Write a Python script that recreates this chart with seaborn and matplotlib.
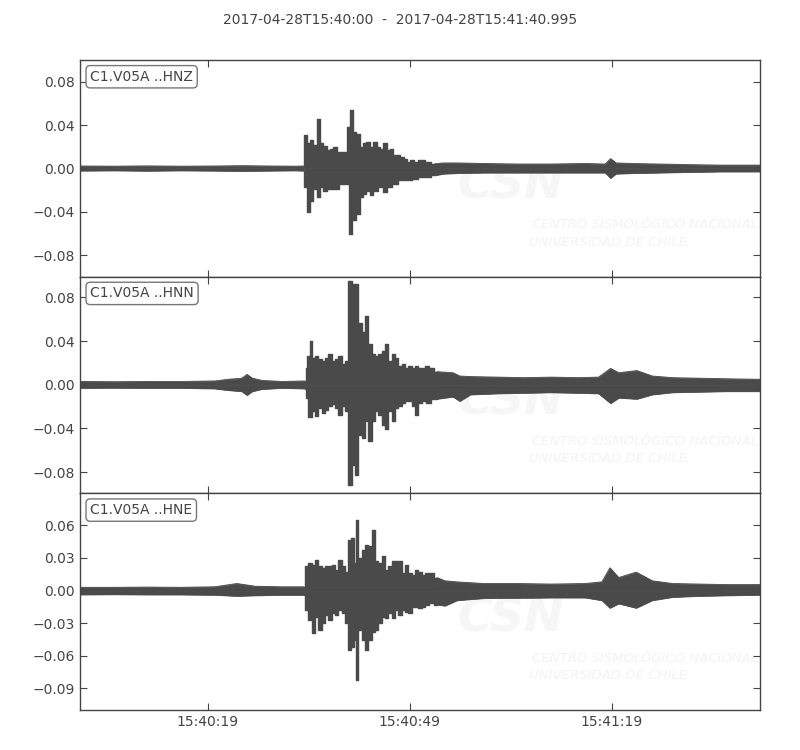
import numpy as np
import pandas as pd
import matplotlib
matplotlib.use("Agg")
import matplotlib.pyplot as plt
import seaborn as sns

# seconds after 2017-04-28T15:40:00
title = "2017-04-28T15:40:00  -  2017-04-28T15:41:40.995"
t_end = 100.995
channels = ["C1.V05A ..HNZ", "C1.V05A ..HNN", "C1.V05A ..HNE"]
xtick_pos = [19, 49, 79]
xtick_labels = ["15:40:19", "15:40:49", "15:41:19"]
# strong-motion part of each trace (densely read)
event_win = [(33.2, 52.7), (33.4, 53), (33.3, 53)]

# max / min outline of each trace (time s, amplitude)
hnz_up_t = [0, 5, 10, 15, 20, 24, 28, 32, 33.2, 33.4, 33.9, 34.4, 34.9, 35.4, 35.9, 36.4,
            36.9, 37.4, 37.9, 38.4, 38.9, 39.4, 39.9, 40.4, 40.8, 41.3, 41.8, 42.3, 42.8,
            43.3, 43.8, 44.3, 44.8, 45.3, 45.8, 46.3, 46.8, 47.3, 47.8, 48.3, 48.8, 49.3,
            49.8, 50.7, 51.7, 52.7, 54, 56, 60, 65, 70, 75, 78, 78.8, 79.6, 82, 86, 90,
            95, 101]
hnz_up_v = [0.0022, 0.002, 0.0023, 0.002, 0.0022, 0.0025, 0.0022, 0.002, 0.0022, 0.0307,
            0.023, 0.026, 0.0214, 0.046, 0.023, 0.021, 0.0167, 0.018, 0.020, 0.015, 0.015,
            0.015, 0.038, 0.054, 0.034, 0.032, 0.020, 0.023, 0.0245, 0.020, 0.0245, 0.020,
            0.018, 0.023, 0.0167, 0.018, 0.012, 0.012, 0.0105, 0.009, 0.006, 0.0074,
            0.006, 0.0074, 0.006, 0.0043, 0.005, 0.005, 0.0045, 0.004, 0.004, 0.0045,
            0.004, 0.009, 0.005, 0.0045, 0.004, 0.0035, 0.003, 0.003]
hnz_lo_t = [0, 5, 10, 15, 20, 24, 28, 32, 33.2, 33.4, 33.9, 34.4, 34.9, 35.4, 35.9, 36.4,
            36.9, 37.9, 38.9, 39.9, 40.1, 40.6, 41.3, 41.8, 42.3, 42.8, 43.3, 43.8, 44.8,
            45.3, 45.8, 46.8, 47.8, 48.8, 49.8, 50.7, 51.7, 52.7, 54, 56, 60, 65, 70, 75,
            78, 78.8, 79.6, 82, 86, 90, 95, 101]
hnz_lo_v = [-0.0022, -0.002, -0.0023, -0.002, -0.0022, -0.0025, -0.0022, -0.002, -0.0022,
            -0.0174, -0.0406, -0.030, -0.019, -0.0267, -0.0174, -0.0205, -0.019, -0.019,
            -0.0143, -0.0143, -0.061, -0.048, -0.042, -0.0267, -0.0236, -0.0205, -0.025,
            -0.0205, -0.0174, -0.022, -0.0174, -0.0143, -0.011, -0.011, -0.0096, -0.008,
            -0.008, -0.0065, -0.005, -0.0045, -0.004, -0.004, -0.004, -0.004, -0.004,
            -0.009, -0.005, -0.0045, -0.004, -0.0035, -0.003, -0.003]

hnn_up_t = [0, 5, 10, 15, 20, 22, 24, 24.8, 25.6, 27, 30, 33.4, 33.66, 33.91, 34.3, 34.65,
            35.15, 35.64, 36.14, 36.63, 37.13, 37.62, 38.12, 38.61, 39.11, 39.6, 40.1,
            40.6, 41.09, 41.58, 42.08, 42.57, 43.07, 43.56, 44.06, 44.55, 45.05, 45.54,
            46.04, 46.53, 47.03, 47.52, 48.02, 48.51, 49.0, 49.5, 50.0, 50.5, 51.0, 51.5,
            52.2, 53, 55.4, 56.4, 58, 62, 66, 70, 74, 77, 78.8, 80, 82.7, 85, 88, 92, 96,
            101]
hnn_up_v = [0.003, 0.0028, 0.003, 0.003, 0.0035, 0.005, 0.006, 0.0095, 0.006, 0.004, 0.003,
            0.0035, 0.0156, 0.0264, 0.040, 0.0248, 0.0264, 0.0233, 0.0218, 0.0248, 0.0279,
            0.0218, 0.0233, 0.0264, 0.0187, 0.0218, 0.095, 0.092, 0.092, 0.057, 0.048,
            0.063, 0.037, 0.0279, 0.0264, 0.0279, 0.031, 0.037, 0.0218, 0.0279, 0.0248,
            0.0172, 0.0187, 0.0156, 0.0172, 0.0156, 0.0172, 0.0156, 0.0156, 0.0172, 0.0156,
            0.012, 0.011, 0.008, 0.0075, 0.007, 0.0065, 0.007, 0.0065, 0.007, 0.015, 0.011,
            0.013, 0.008, 0.0065, 0.006, 0.0055, 0.005]
hnn_lo_t = [0, 5, 10, 15, 20, 22, 24, 24.8, 25.6, 27, 30, 33.4, 33.66, 34.16, 34.65, 35.15,
            35.64, 36.14, 36.63, 37.13, 37.62, 38.12, 38.61, 39.11, 39.6, 40.1, 40.6,
            41.09, 41.58, 42.08, 42.57, 43.07, 43.56, 44.06, 44.55, 45.05, 45.54, 46.04,
            46.53, 47.03, 47.52, 48.02, 48.51, 49.0, 49.5, 50.0, 50.5, 51.0, 51.7, 52.5,
            53, 55.4, 56.4, 58, 62, 66, 70, 74, 77, 78.8, 80, 82.7, 85, 88, 92, 96, 101]
hnn_lo_v = [-0.003, -0.0028, -0.003, -0.003, -0.0035, -0.005, -0.006, -0.0095, -0.006,
            -0.004, -0.003, -0.0035, -0.012, -0.030, -0.0242, -0.0288, -0.0212, -0.0257,
            -0.0227, -0.0196, -0.018, -0.0212, -0.0273, -0.0196, -0.0242, -0.0917, -0.0733,
            -0.0825, -0.0457, -0.0487, -0.0334, -0.0518, -0.0334, -0.0242, -0.0273, -0.0365,
            -0.041, -0.0242, -0.0334, -0.0212, -0.0196, -0.0166, -0.015, -0.015, -0.0196,
            -0.0273, -0.0166, -0.015, -0.0166, -0.0135, -0.013, -0.011, -0.015, -0.009,
            -0.008, -0.0075, -0.007, -0.0075, -0.008, -0.017, -0.012, -0.013, -0.009,
            -0.007, -0.0065, -0.006, -0.006]

hne_up_t = [0, 5, 10, 15, 20, 23.3, 26, 30, 33.3, 33.66, 34.16, 34.65, 35.15, 35.64, 36.14,
            36.63, 37.13, 37.62, 38.12, 38.61, 39.11, 39.6, 40.1, 40.45, 40.84, 41.09,
            41.58, 42.08, 42.57, 43.07, 43.56, 44.06, 44.55, 45.05, 45.54, 46.04, 46.53,
            47.03, 47.52, 48.02, 48.51, 49.0, 49.5, 50.0, 50.5, 51.0, 51.5, 52.2, 53, 54.2,
            56, 60, 65, 70, 75, 77.5, 78.7, 80, 82.6, 85, 88, 92, 96, 101]
hne_up_v = [0.003, 0.003, 0.0032, 0.003, 0.0035, 0.0065, 0.004, 0.0035, 0.0035, 0.0222,
            0.0253, 0.0237, 0.0283, 0.0222, 0.0207, 0.0222, 0.0222, 0.0237, 0.0191, 0.0283,
            0.0222, 0.0175, 0.0468, 0.0484, 0.0253, 0.0653, 0.030, 0.0376, 0.042, 0.0406,
            0.056, 0.0268, 0.0253, 0.0314, 0.0191, 0.0222, 0.0268, 0.0268, 0.0268, 0.016,
            0.0237, 0.016, 0.0145, 0.0191, 0.0175, 0.0145, 0.016, 0.016, 0.012, 0.009,
            0.008, 0.0065, 0.0065, 0.006, 0.0065, 0.008, 0.021, 0.012, 0.017, 0.009, 0.0065,
            0.006, 0.0055, 0.0055]
hne_lo_t = hne_up_t
hne_lo_v = [-0.0037, -0.0035, -0.0037, -0.0037, -0.004, -0.005, -0.0045, -0.004, -0.004,
            -0.0178, -0.027, -0.0394, -0.024, -0.0363, -0.030, -0.0224, -0.027, -0.0209,
            -0.0224, -0.0178, -0.0209, -0.030, -0.0548, -0.0517, -0.0455, -0.0825, -0.0363,
            -0.0455, -0.0548, -0.0455, -0.0378, -0.0363, -0.030, -0.024, -0.0255, -0.0209,
            -0.0255, -0.0178, -0.0224, -0.0178, -0.0194, -0.0209, -0.0148, -0.0148,
            -0.0163, -0.0148, -0.0132, -0.0117, -0.013, -0.014, -0.009, -0.007, -0.0068,
            -0.0065, -0.0065, -0.009, -0.016, -0.012, -0.016, -0.009, -0.006, -0.005,
            -0.0045, -0.004]

ylims = [(-0.1, 0.1), (-0.0995, 0.099), (-0.11, 0.0895)]
yticks = [[-0.08, -0.04, 0.0, 0.04, 0.08],
          [-0.08, -0.04, 0.0, 0.04, 0.08],
          [-0.09, -0.06, -0.03, 0.0, 0.03, 0.06]]

traces = [(hnz_up_t, hnz_up_v, hnz_lo_t, hnz_lo_v),
          (hnn_up_t, hnn_up_v, hnn_lo_t, hnn_lo_v),
          (hne_up_t, hne_up_v, hne_lo_t, hne_lo_v)]

sns.set_style("ticks")
plt.rcParams['font.family'] = ['DejaVu Sans']
gray = "#444444"
trace = "#4a4a4a"
plt.rcParams.update({
    "text.color": gray, "axes.edgecolor": gray, "xtick.color": gray,
    "ytick.color": gray, "xtick.direction": "in", "ytick.direction": "in",
})

fig, axes = plt.subplots(3, 1, figsize=(8, 7.5), dpi=100, sharex=True)
fig.subplots_adjust(left=0.1, right=0.95, top=0.92, bottom=0.0533, hspace=0)


def draw_outline(ax, df, step):
    kw = dict(drawstyle="steps-mid") if step else {}
    sns.lineplot(data=df, x="t", y="v", ax=ax, color=trace, lw=1.0 if step else 0.6,
                 zorder=3, **kw)
    ax.fill_between(df["t"], 0, df["v"], step="mid" if step else None,
                    facecolor=trace, edgecolor=trace, lw=0.5, zorder=3)


for i, ax in enumerate(axes):
    ut, uv, lt, lv = traces[i]
    t0, t1 = event_win[i]
    for tt, vv in ((ut, uv), (lt, lv)):
        df = pd.DataFrame({"t": tt, "v": vv})
        draw_outline(ax, df[df.t <= t0], False)
        draw_outline(ax, df[df.t >= t1], False)
        draw_outline(ax, df[(df.t >= t0) & (df.t <= t1)], True)

    # faint agency watermark
    ax.text(0.555, 0.42, "CSN", transform=ax.transAxes, fontsize=34, style="italic",
            weight="bold", color="#f6f6f6", ha="left", va="center", zorder=0)
    ax.text(0.665, 0.24, "CENTRO SISMOLÓGICO NACIONAL", transform=ax.transAxes,
            fontsize=9.5, style="italic", color="#f3f3f3", ha="left", va="center",
            zorder=0, clip_on=True)
    ax.text(0.66, 0.16, "UNIVERSIDAD DE CHILE", transform=ax.transAxes,
            fontsize=9.5, style="italic", color="#f3f3f3", ha="left", va="center",
            zorder=0, clip_on=True)

    ax.set_xlim(0, t_end)
    ax.set_ylim(*ylims[i])
    ax.set_yticks(yticks[i])
    ax.set_yticklabels([f"{v:.2f}".replace("-", "\u2212") for v in yticks[i]])
    ax.set_xlabel("")
    ax.set_ylabel("")
    ax.tick_params(axis="both", which="both", top=True, right=True, length=5,
                   width=0.8, labelsize=10)
    for s in ax.spines.values():
        s.set_linewidth(1.0)
        s.set_zorder(5)
    ax.text(0.015, 0.955, channels[i], transform=ax.transAxes, fontsize=10, va="top",
            ha="left", color=gray, zorder=6,
            bbox=dict(boxstyle="round,pad=0.3", fc="white", ec="#777777", lw=1))

axes[-1].set_xticks(xtick_pos)
axes[-1].set_xticklabels(xtick_labels)
fig.suptitle(title, y=0.983, fontsize=10, color=gray)

fig.savefig("out.png", dpi=100)
